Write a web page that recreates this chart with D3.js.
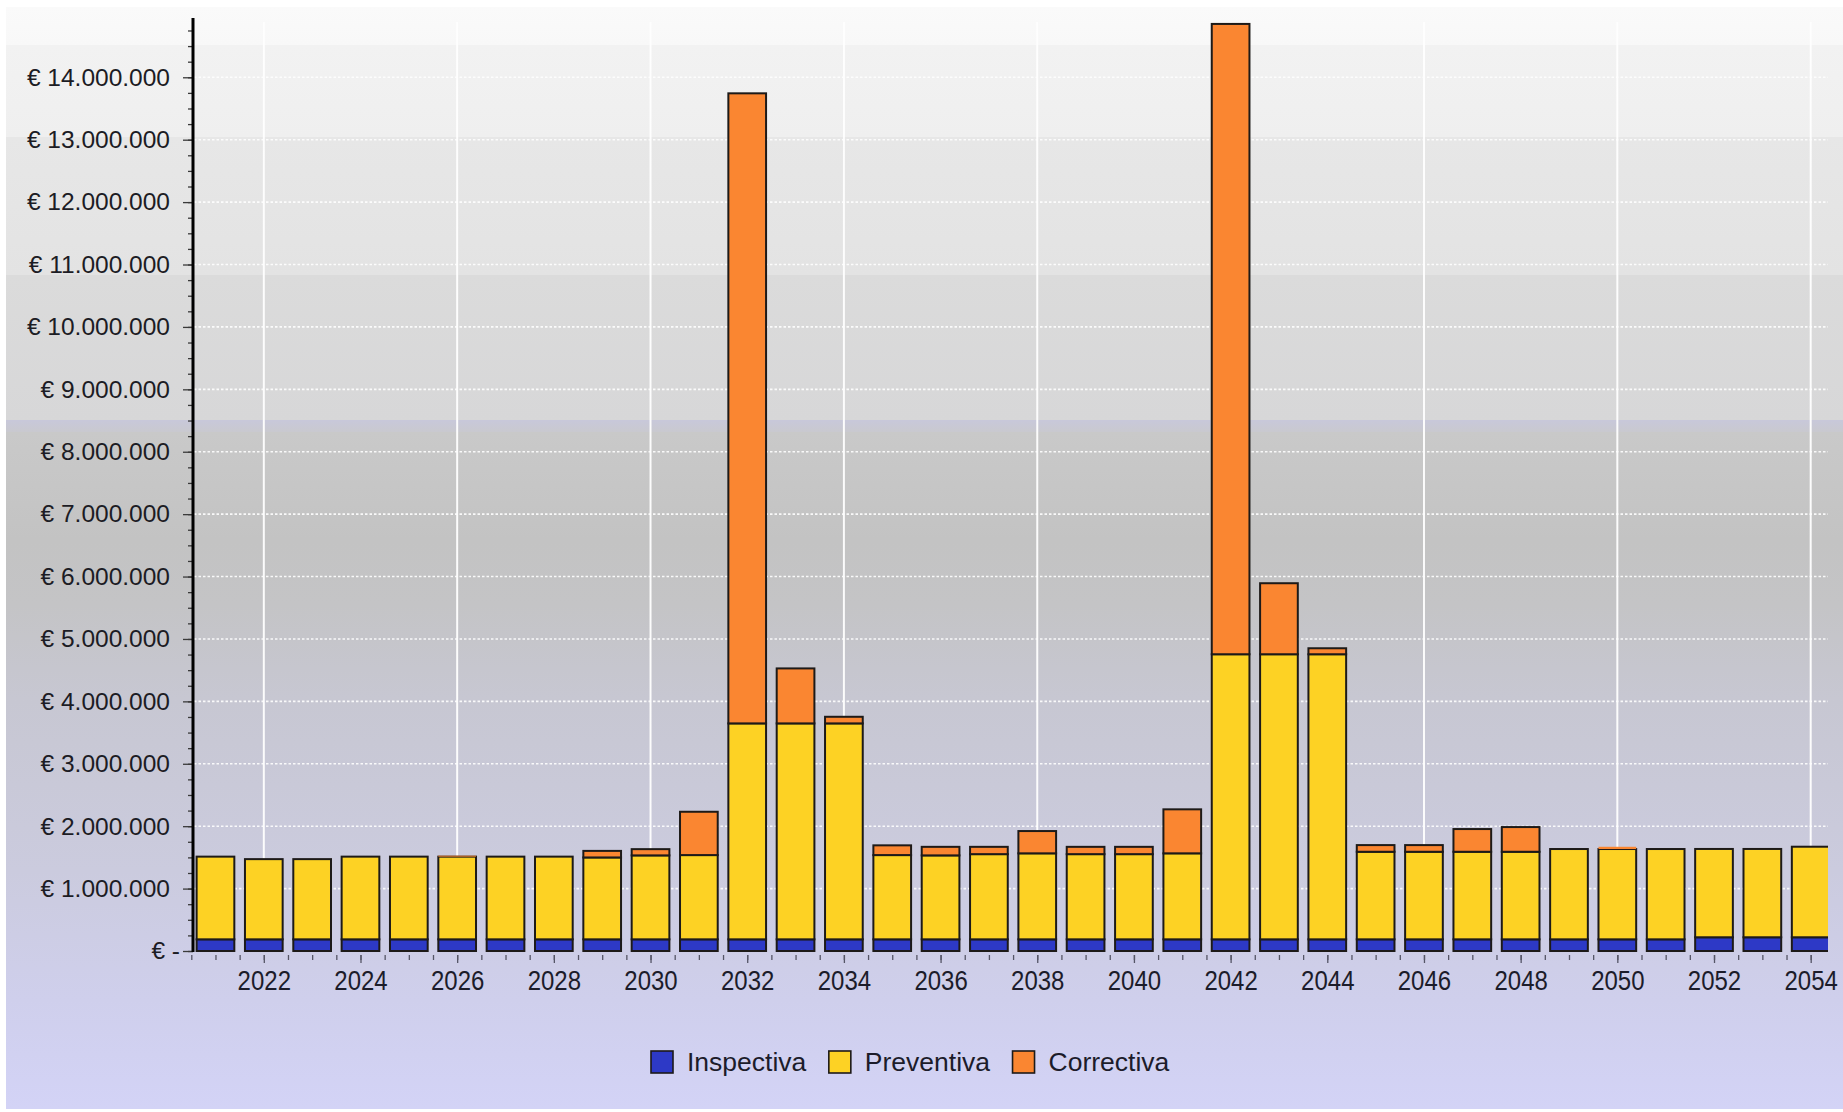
<!DOCTYPE html>
<html>
<head>
<meta charset="utf-8">
<script src="https://cdn.jsdelivr.net/npm/d3@7"></script>
<style>
  html, body { margin: 0; padding: 0; background: #ffffff; }
  svg { display: block; font-family: "Liberation Sans", Arial, sans-serif; }
</style>
</head>
<body>
<svg id="chart" width="1843" height="1112"></svg>
<script>
// Yearly maintenance cost per type (EUR)
const years = [2021, 2022, 2023, 2024, 2025, 2026, 2027, 2028, 2029, 2030,
               2031, 2032, 2033, 2034, 2035, 2036, 2037, 2038, 2039, 2040,
               2041, 2042, 2043, 2044, 2045, 2046, 2047, 2048, 2049, 2050,
               2051, 2052, 2053, 2054];

const inspectiva = [187000, 187000, 187000, 187000, 187000, 187000, 187000, 187000, 187000, 187000,
                    187000, 187000, 187000, 187000, 187000, 187000, 187000, 187000, 187000, 187000,
                    187000, 187000, 187000, 187000, 187000, 187000, 187000, 187000, 187000, 187000,
                    187000, 220000, 220000, 220000];

const preventiva = [1325000, 1285000, 1285000, 1325000, 1325000, 1325000, 1325000, 1325000, 1312000, 1345000,
                    1350000, 3460000, 3460000, 3460000, 1350000, 1345000, 1365000, 1378000, 1365000, 1365000,
                    1378000, 4568000, 4568000, 4568000, 1403000, 1403000, 1403000, 1403000, 1447000, 1447000,
                    1447000, 1415000, 1415000, 1451000];

const correctiva = [0, 0, 0, 0, 0, 15000, 0, 0, 105000, 100000,
                    694000, 10096000, 881000, 106000, 156000, 137000, 117000, 357000, 117000, 117000,
                    705000, 10100000, 1138000, 96000, 107000, 107000, 364000, 396000, 0, 36000,
                    0, 0, 0, 0];

const seriesNames = ["Inspectiva", "Preventiva", "Correctiva"];
const seriesColors = ["#2d39c6", "#fdd224", "#fa8631"];
const yMajorTicks = d3.range(0, 15000000, 1000000);
const xLabelYears = [2022, 2024, 2026, 2028, 2030, 2032, 2034, 2036, 2038, 2040,
                     2042, 2044, 2046, 2048, 2050, 2052, 2054];
const xGridYears = [2022, 2026, 2030, 2034, 2038, 2042, 2046, 2050, 2054];

const svg = d3.select("#chart");

// ---- plot geometry ----
const axisX = 193;
const plotRight = 1828;
const yZero = 951;
const yTop = 18;

const y = d3.scaleLinear().domain([0, 14950000]).range([yZero, yTop]);
const x = d3.scaleBand().domain(years)
  .range([191.3, 191.3 + years.length * 48.34])
  .paddingInner(0.22).paddingOuter(0.11);
const xc = d3.scaleLinear()
  .domain([years[0], years[years.length - 1]])
  .range([x(years[0]) + x.bandwidth() / 2, x(years[years.length - 1]) + x.bandwidth() / 2]);

// ---- background with stepped glossy gradient ----
const defs = svg.append("defs");
const bg = defs.append("linearGradient").attr("id", "bgGrad")
  .attr("x1", 0).attr("y1", 0).attr("x2", 0).attr("y2", 1);
const bgTop = 7, bgBottom = 1109;
const stops = [
  [7, "#fafafa"], [45, "#f8f8f8"], [45, "#f2f2f2"], [137, "#efefef"],
  [137, "#e7e7e7"], [275, "#e3e3e3"], [275, "#dbdbdb"], [420, "#d7d7d8"],
  [420, "#c8c8da"], [432, "#c9c9cf"], [432, "#c9c9c9"], [540, "#c3c3c3"],
  [605, "#c4c4c6"], [700, "#c7c7d2"], [870, "#cbcbde"], [1000, "#cfcfec"],
  [1109, "#d3d3f6"]
];
stops.forEach(([py, c]) => {
  bg.append("stop").attr("offset", (py - bgTop) / (bgBottom - bgTop)).attr("stop-color", c);
});
svg.append("rect").attr("x", 6).attr("y", bgTop)
  .attr("width", 1843 - 6).attr("height", bgBottom - bgTop)
  .attr("fill", "url(#bgGrad)");

defs.append("clipPath").attr("id", "plotClip")
  .append("rect").attr("x", axisX).attr("y", 0)
  .attr("width", plotRight - axisX).attr("height", yZero + 2);

// ---- grid ----
const grid = svg.append("g");
grid.selectAll("line.h").data(yMajorTicks.filter(v => v > 0)).join("line")
  .attr("class", "h")
  .attr("x1", axisX + 1).attr("x2", plotRight)
  .attr("y1", d => y(d)).attr("y2", d => y(d))
  .attr("stroke", "#ffffff").attr("stroke-width", 1.6)
  .attr("stroke-dasharray", "2.5,2").attr("opacity", 0.9);
grid.selectAll("line.v").data(xGridYears).join("line")
  .attr("class", "v")
  .attr("x1", d => xc(d)).attr("x2", d => xc(d))
  .attr("y1", 22).attr("y2", yZero)
  .attr("stroke", "#ffffff").attr("stroke-width", 2).attr("opacity", 0.95);

// ---- stacked bars ----
const table = years.map((yr, i) => ({
  year: yr,
  Inspectiva: inspectiva[i],
  Preventiva: preventiva[i],
  Correctiva: correctiva[i]
}));
const stacked = d3.stack().keys(seriesNames)(table);

const bars = svg.append("g").attr("clip-path", "url(#plotClip)");
stacked.forEach((layer, li) => {
  bars.append("g")
    .attr("fill", seriesColors[li])
    .selectAll("rect")
    .data(layer.filter(d => d[1] - d[0] > 0))
    .join("rect")
    .attr("x", d => x(d.data.year))
    .attr("width", x.bandwidth())
    .attr("y", d => y(d[1]))
    .attr("height", d => y(d[0]) - y(d[1]))
    // very thin slices show only their fill
    .attr("stroke", d => (y(d[0]) - y(d[1]) < 3 ? "none" : "#1d1a18"))
    .attr("stroke-width", 2);
});

// ---- y axis ----
const locale = d3.formatLocale({ decimal: ",", thousands: ".", grouping: [3], currency: ["€ ", ""] });
const fmt = locale.format(",.0f");
const yAxisG = svg.append("g").attr("transform", `translate(${axisX},0)`);
yAxisG.call(d3.axisLeft(y).tickValues(d3.range(0, 14950000, 250000)).tickSize(5).tickFormat(""))
  .call(g => g.select(".domain").remove())
  .call(g => g.selectAll("line").attr("stroke", "#3a3a3a").attr("stroke-width", 1.3));
const yMajor = svg.append("g").attr("transform", `translate(${axisX},0)`);
yMajor.call(d3.axisLeft(y).tickValues(yMajorTicks).tickSize(10).tickPadding(13)
    .tickFormat(d => d === 0 ? "€ -" : "€ " + fmt(d)))
  .call(g => g.select(".domain").remove())
  .call(g => g.selectAll("line").attr("stroke", "#3a3a3a").attr("stroke-width", 1.3))
  .call(g => g.selectAll("text")
    .attr("font-size", 24.5)
    .attr("font-family", "'Liberation Sans', Arial, sans-serif")
    .attr("fill", "#1c1c24"))
  .call(g => g.selectAll(".tick").filter(d => d === 0).select("text").attr("x", -13));
svg.append("line")
  .attr("x1", axisX).attr("x2", axisX)
  .attr("y1", yTop).attr("y2", yZero + 1)
  .attr("stroke", "#000000").attr("stroke-width", 3);

// ---- x axis ----
const halfYears = d3.range(years[0] - 0.5, years[years.length - 1] + 0.51, 0.5)
  .filter(v => xc(v) <= plotRight);
const xMinor = svg.append("g").attr("transform", `translate(0,${yZero + 4})`);
xMinor.call(d3.axisBottom(xc).tickValues(halfYears).tickSize(5).tickFormat(""))
  .call(g => g.select(".domain").remove())
  .call(g => g.selectAll("line").attr("stroke", "#555566").attr("stroke-width", 1.3));
const xMajor = svg.append("g").attr("transform", `translate(0,${yZero + 4})`);
xMajor.call(d3.axisBottom(xc).tickValues(xLabelYears).tickSize(8).tickFormat(d3.format("d")))
  .call(g => g.select(".domain").remove())
  .call(g => g.selectAll("line").attr("stroke", "#555566").attr("stroke-width", 1.3))
  .call(g => g.selectAll("text")
    .attr("y", null).attr("dy", null)
    .attr("transform", "translate(0,35) scale(1,1.15)")
    .attr("font-size", 24)
    .attr("font-family", "'Liberation Sans', Arial, sans-serif")
    .attr("fill", "#1c1c2a"));

// ---- legend ----
const legend = svg.append("g");
let lx = 651;
const ly = 1051;
seriesNames.forEach((name, i) => {
  legend.append("rect")
    .attr("x", lx).attr("y", ly).attr("width", 22).attr("height", 22)
    .attr("fill", seriesColors[i]).attr("stroke", "#1d1a18").attr("stroke-width", 1.6);
  const t = legend.append("text")
    .attr("x", lx + 36).attr("y", ly + 20)
    .attr("font-size", 26.5)
    .attr("fill", "#1c1c2a")
    .text(name);
  lx = lx + 36 + t.node().getComputedTextLength() + 22.5;
});
</script>
</body>
</html>
